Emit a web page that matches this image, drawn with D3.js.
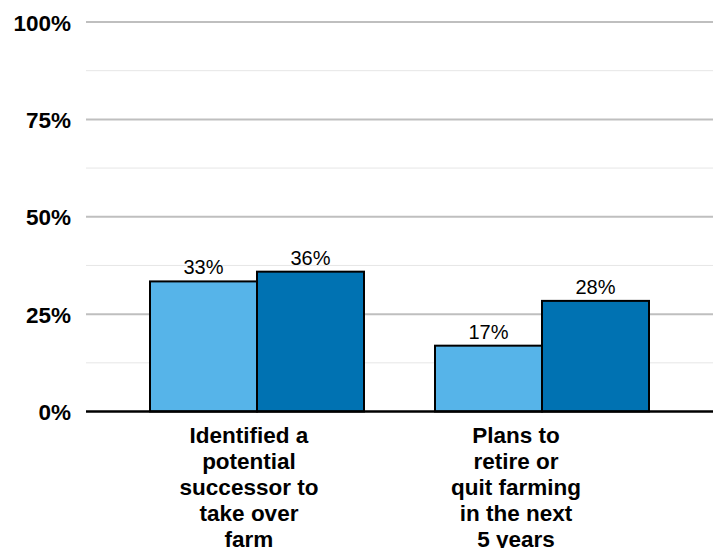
<!DOCTYPE html>
<html><head><meta charset="utf-8">
<script src="https://cdn.jsdelivr.net/npm/d3@7"></script>
<style>body{margin:0;background:#fff}svg{display:block;font-family:"Liberation Sans",Arial,sans-serif}</style>
</head><body><svg id="c" width="719" height="548"></svg>
<script>
const categories = ["Identified a potential successor to take over farm", "Plans to retire or quit farming in the next 5 years"];
const categoryLines = [["Identified a","potential","successor to","take over","farm"],["Plans to","retire or","quit farming","in the next","5 years"]];
const seriesNames = ["Group A", "Group B"];
const seriesA = [33.4, 16.9];
const seriesB = [35.9, 28.4];
const yTicks = [0, 25, 50, 75, 100];
const yMinorTicks = [12.5, 37.5, 62.5, 87.5];
const colors = ["#56B4E9", "#0072B2"];

const svg = d3.select("#c");
const plotL = 86, plotR = 713, y0 = 411.5, y1 = 22;
const y = d3.scaleLinear().domain([0, 100]).range([y0, y1]);
const x = d3.scaleBand().domain(categories).range([114.5, 684.5]).paddingInner(0).paddingOuter(0);
const xs = d3.scaleBand().domain(seriesNames).range([0, 214]);
const xLab = d3.scalePoint().domain(categories).range([249, 516]);

// minor grid
svg.append("g").selectAll("line").data(yMinorTicks).join("line")
  .attr("x1", plotL).attr("x2", plotR).attr("y1", d => y(d)).attr("y2", d => y(d))
  .attr("stroke", "#e6e6e6").attr("stroke-width", 1);
// major grid
svg.append("g").selectAll("line").data(yTicks.filter(d => d > 0)).join("line")
  .attr("x1", plotL).attr("x2", plotR).attr("y1", d => y(d)).attr("y2", d => y(d))
  .attr("stroke", "#bfbfbf").attr("stroke-width", 2);

// y axis labels
const yAxis = d3.axisLeft(y).tickValues(yTicks).tickFormat(d => d + "%").tickSize(0).tickPadding(0);
const ga = svg.append("g").attr("transform", `translate(71,0)`).call(yAxis);
ga.select(".domain").remove();
ga.selectAll("text").attr("font-size", 22.5).attr("font-weight", "bold").attr("fill", "#000")
  .attr("font-family", "Liberation Sans, Arial, sans-serif").attr("dy", "0.36em");

const data = categories.map((c, i) => ({c, vals: [seriesA[i], seriesB[i]]}));
const groups = svg.append("g").selectAll("g").data(data).join("g")
  .attr("transform", d => `translate(${x(d.c) + x.bandwidth()/2 - 107},0)`);
groups.selectAll("rect").data(d => d.vals.map((v, j) => ({v, s: seriesNames[j], j}))).join("rect")
  .attr("x", d => xs(d.s)).attr("width", xs.bandwidth())
  .attr("y", d => y(d.v)).attr("height", d => y(0) - y(d.v))
  .attr("fill", d => colors[d.j]).attr("stroke", "#000").attr("stroke-width", 2);
groups.selectAll("text").data(d => d.vals.map((v, j) => ({v, s: seriesNames[j]}))).join("text")
  .attr("x", d => xs(d.s) + xs.bandwidth()/2).attr("y", d => y(d.v) - 7)
  .attr("text-anchor", "middle").attr("font-size", 20).attr("fill", "#000")
  .text(d => Math.round(d.v) + "%");

// zero line
svg.append("line").attr("x1", plotL).attr("x2", plotR).attr("y1", y(0)).attr("y2", y(0))
  .attr("stroke", "#000").attr("stroke-width", 2.5);

// category labels
categories.forEach((c, i) => {
  const t = svg.append("text").attr("text-anchor", "middle").attr("font-size", 22.5)
    .attr("font-weight", "bold").attr("fill", "#000");
  categoryLines[i].forEach((ln, k) => {
    t.append("tspan").attr("x", xLab(c)).attr("y", 443 + k * 26).text(ln);
  });
});
</script></body></html>
